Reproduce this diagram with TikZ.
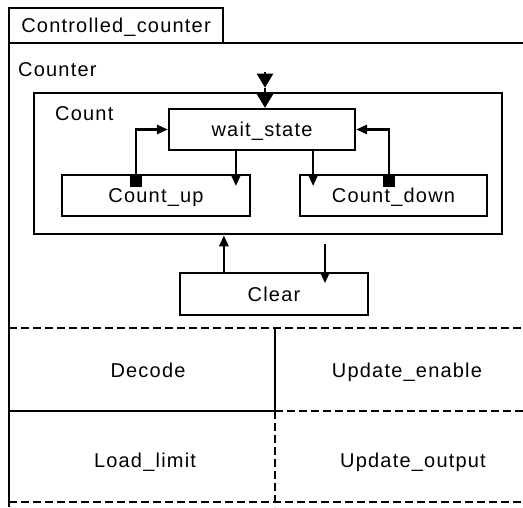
\documentclass[tikz,border=0pt]{standalone}
\usepackage{fontspec}
\setmainfont[LetterSpace=6]{Liberation Sans}
\usetikzlibrary{arrows.meta,calc}
\begin{document}
\begin{tikzpicture}[x=1pt,y=-1pt,
  txt/.style={font=\fontsize{20}{22}\selectfont, text depth=0pt},
  box/.style={draw, line width=2.2pt, inner sep=0pt, txt},
  lbl/.style={inner sep=0pt, txt},
  conn/.style={line width=2.6pt, -{Triangle[width=9pt,length=11pt]}},
  bigarr/.style={line width=2.6pt, -{Triangle[width=16pt,length=14pt]}},
  src/.style={fill, inner sep=0pt, minimum width=12pt, minimum height=11pt},
  sep/.style={line width=2pt, dash pattern=on 8pt off 4pt},
  frame/.style={line width=2pt}]
\useasboundingbox (0,0) rectangle (523,507);
% outer frame
\coordinate (fbl) at (9,507);
\coordinate (ftr) at (523,43);
\draw[frame] (fbl) |- (ftr);
\node[box, minimum width=214pt, minimum height=35pt] (tab) at (116,25.5) {Controlled\_counter};
\node[lbl, anchor=west] (counterlbl) at (18,70) {Counter};
% Count superstate
\node[box, line width=2.6pt, minimum width=468pt, minimum height=141pt] (count) at (268,163.5) {};
\node[lbl, anchor=west] (countlbl) at (55,114) {Count};
\node[box, minimum width=186pt, minimum height=41pt] (wait) at (262,129.5) {wait\_state};
\node[box, minimum width=188pt, minimum height=41pt] (cup) at (156,195.5) {Count\_up};
\node[box, minimum width=187pt, minimum height=41pt] (cdown) at (393.5,195.5) {Count\_down};
\node[box, minimum width=188pt, minimum height=42pt] (clear) at (274,294) {Clear};
\node[src] (sq1) at (136,181.5) {};
\node[src] (sq2) at (389,181.5) {};
% connectors
\draw[conn] (sq1.center) |- (wait.west);
\draw[conn] (sq2.center) |- (wait.east);
\draw[conn] ($(wait.south west)+(68,0)$) -- ++(0,35);
\draw[conn] ($(wait.south east)+(-43,0)$) -- ++(0,35);
\coordinate (init) at (265,72);
\coordinate (mid) at ($(init |- count.north)+(0,-4)$);
\draw[bigarr] (init) -- (mid);
\draw[bigarr] (mid) -- (init |- wait.north);
\coordinate (c1) at ($(clear.north west)+(45,0)$);
\draw[conn] (c1) -- (c1 |- count.south);
\draw[conn] ($(count.south)+(57,9)$) -- ++(0,39);
% lower partitions
\coordinate (s1l) at (9,328);
\coordinate (s1r) at (523,328);
\coordinate (vtop) at (275,328);
\coordinate (vmid) at (275,411);
\coordinate (vbot) at (275,507);
\coordinate (s2l) at (9,411);
\coordinate (s2r) at (523,411);
\coordinate (s3l) at (9,502);
\coordinate (s3r) at (523,502);
\draw[sep] (s1l) -- (s1r);
\draw[frame] (vtop) -- (vmid);
\draw[frame] (s2l) -- (vmid);
\draw[sep] (vmid) -- (s2r);
\draw[sep] (vmid) -- (vbot);
\draw[sep] (s3l) -- (s3r);
\node[lbl] (decode) at (148,370) {Decode};
\node[lbl] (upen) at (407,370) {Update\_enable};
\node[lbl] (load) at (145,460) {Load\_limit};
\node[lbl] (upout) at (413,460) {Update\_output};
\end{tikzpicture}
\end{document}
